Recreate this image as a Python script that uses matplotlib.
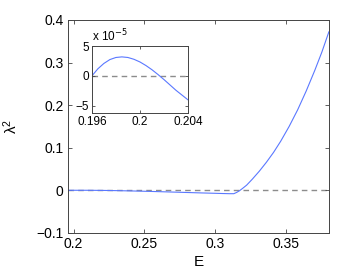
import matplotlib
matplotlib.use("Agg")
import matplotlib.pyplot as plt

plt.rcParams['font.family'] = ['Liberation Sans', 'DejaVu Sans']

# main curve, lambda^2 against E
E = [0.196, 0.21, 0.22, 0.23, 0.24, 0.25, 0.26, 0.27, 0.28, 0.29, 0.30,
     0.305, 0.31, 0.313, 0.315, 0.317, 0.319, 0.322, 0.326, 0.331, 0.336,
     0.341, 0.346, 0.352, 0.358, 0.364, 0.370, 0.375, 0.38]
lam2 = [0.0, 0.0, -0.0003, -0.0008, -0.0015, -0.0023, -0.0032, -0.0042,
        -0.0052, -0.0062, -0.0071, -0.0076, -0.0080, -0.0080, -0.005, -0.001,
        0.004, 0.012, 0.026, 0.045, 0.066, 0.089, 0.115, 0.150, 0.189, 0.233,
        0.281, 0.324, 0.372]

# inset, values in units of 1e-5
E_in = [0.196, 0.1965, 0.197, 0.1975, 0.198, 0.1985, 0.199, 0.1995, 0.2,
        0.2005, 0.201, 0.2015, 0.202, 0.2025, 0.203, 0.2035, 0.204]
lam2_in = [0.0, 1.2, 2.1, 2.75, 3.1, 3.2, 3.1, 2.8, 2.35, 1.75, 1.05, 0.25,
           -0.6, -1.5, -2.4, -3.2, -4.0]

xticks = [0.2, 0.25, 0.3, 0.35]
yticks = [-0.1, 0, 0.1, 0.2, 0.3, 0.4]
xticks_in = [0.196, 0.2, 0.204]
yticks_in = [-5, 0, 5]

blue = '#5a78ff'
grey = '#8c8c8c'

fig = plt.figure(figsize=(3.63, 2.73), dpi=100)
ax = fig.add_axes([0.187, 0.147, 0.719, 0.780])
ax.plot(E, lam2, color=blue, lw=0.8)
ax.axhline(0, color=grey, lw=1.0, ls=(0, (4, 3)), zorder=0)
ax.set_xlim(0.196, 0.38)
ax.set_ylim(-0.1, 0.4)
ax.set_xticks(xticks)
ax.set_xticklabels(['0.2', '0.25', '0.3', '0.35'])
ax.set_yticks(yticks)
ax.set_yticklabels(['\u22120.1', '0', '0.1', '0.2', '0.3', '0.4'])
ax.tick_params(direction='in', top=True, right=True, labelsize=10,
               length=3, width=0.6, color='#444444', pad=3)
for s in ax.spines.values():
    s.set_linewidth(0.7)
    s.set_color('#444444')
ax.set_xlabel('E', fontsize=11, labelpad=3)
ax.set_ylabel('$\\mathregular{\\lambda^2}$', fontsize=11, labelpad=12)

ins = fig.add_axes([0.253, 0.586, 0.265, 0.245])
ins.plot(E_in, lam2_in, color=blue, lw=0.8)
ins.axhline(0, color=grey, lw=1.0, ls=(0, (4, 3)), zorder=0)
ins.set_xlim(0.196, 0.204)
ins.set_ylim(-6.2, 5)
ins.set_xticks(xticks_in)
ins.set_xticklabels(['0.196', '0.2', '0.204'])
ins.set_yticks(yticks_in)
ins.set_yticklabels(['\u22125', '0', '5'])
ins.tick_params(direction='in', top=True, right=True, labelsize=8.5,
                length=2.5, width=0.6, color='#444444', pad=2)
for s in ins.spines.values():
    s.set_linewidth(0.7)
    s.set_color('#444444')
ins.text(0.0, 1.03, 'x 10$^{-5}$', transform=ins.transAxes, fontsize=8.5,
         ha='left', va='bottom')

fig.savefig('out.png', dpi=100)
